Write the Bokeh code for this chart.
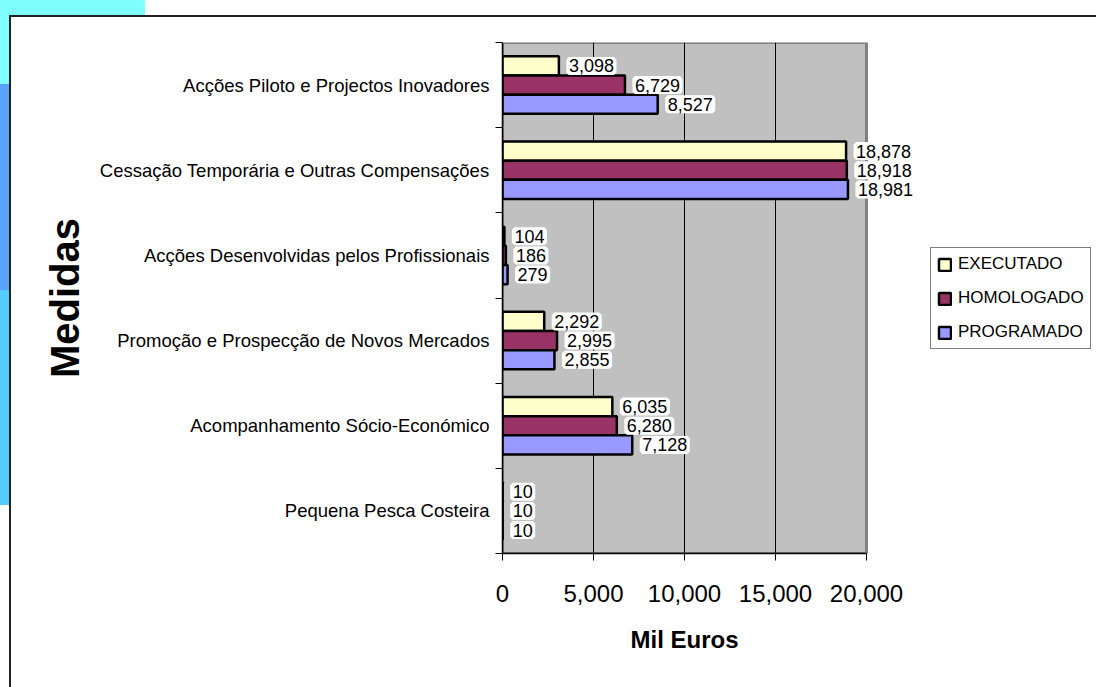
from bokeh.plotting import figure
from bokeh.models import (Range1d, FixedTicker, NumeralTickFormatter, ColumnDataSource,
                          LabelSet, Legend, LegendItem, Title)
from bokeh.core.properties import value
from bokeh.embed import file_html
from bokeh.resources import INLINE

categories = ["Acções Piloto e Projectos Inovadores",
              "Cessação Temporária e Outras Compensações",
              "Acções Desenvolvidas pelos Profissionais",
              "Promoção e Prospecção de Novos Mercados",
              "Acompanhamento Sócio-Económico",
              "Pequena Pesca Costeira"]
executado = [3098, 18878, 104, 2292, 6035, 10]
homologado = [6729, 18918, 186, 2995, 6280, 10]
programado = [8527, 18981, 279, 2855, 7128, 10]
series_names = ["EXECUTADO", "HOMOLOGADO", "PROGRAMADO"]
series_colors = ["#FFFFCC", "#993366", "#9999FF"]
x_ticks = [0, 5000, 10000, 15000, 20000]
x_max = 20000

FONT = "Liberation Sans"
W, H = 1096, 687
FRAME_L, FRAME_R_AXIS, FRAME_T, FRAME_B = 502, 866, 42, 553

n = len(categories)
centers = [n - 0.5 - i for i in range(n)]
boundaries = list(range(n + 1))
bar_h = 0.225
offsets = [bar_h, 0.0, -bar_h]
series_values = [executado, homologado, programado]

# the frame extends to the right edge so that labels / legend are not clipped
x_end = x_max * (W - FRAME_L) / (FRAME_R_AXIS - FRAME_L)

p = figure(width=W, height=H, output_backend="svg", toolbar_location=None,
           x_range=Range1d(0, x_end), y_range=Range1d(0, n),
           min_border_left=FRAME_L, min_border_right=0, min_border_top=FRAME_T,
           min_border_bottom=H - FRAME_B)
p.background_fill_color = "white"
p.border_fill_color = "white"
p.border_fill_alpha = 0
p.outline_line_color = None

# slide background decorations and outer chart frame, painted behind the canvas
p.styles = {
    "background": (
        "linear-gradient(#222222,#222222) 9px 15px / 1087px 2px no-repeat, "
        "linear-gradient(#222222,#222222) 9px 15px / 2px 672px no-repeat, "
        "linear-gradient(#80FFFF,#80FFFF) 0px 0px / 145px 15px no-repeat, "
        "linear-gradient(#80FFFF,#80FFFF) 0px 0px / 9px 84px no-repeat, "
        "linear-gradient(#5AA0FF,#5AA0FF) 0px 84px / 9px 206px no-repeat, "
        "linear-gradient(#55CCFF,#55CCFF) 0px 290px / 9px 215px no-repeat, "
        "white"
    )
}

# gray plot area with darker top/right border
area = p.quad(left=[0], right=[x_max], bottom=[0], top=[n],
              fill_color="#C0C0C0", line_color="#808080", line_width=3)
area.level = "image"

# grid
p.ygrid.grid_line_color = None
p.xgrid.grid_line_color = "black"
p.xgrid.grid_line_width = 1
p.xgrid.ticker = FixedTicker(ticks=x_ticks[1:-1])

# x axis
xa = p.xaxis[0]
xa.bounds = (0, x_max)
xa.ticker = FixedTicker(ticks=x_ticks)
xa.formatter = NumeralTickFormatter(format="0,0")
xa.major_tick_out = 7
xa.major_tick_in = 0
xa.minor_tick_out = 0
xa.minor_tick_in = 0
xa.axis_line_color = "black"
xa.axis_line_width = 1.5
xa.major_tick_line_color = "black"
xa.major_label_text_font = FONT
xa.major_label_text_font_size = "24px"
xa.major_label_text_color = "black"
xa.major_label_standoff = 24

# x axis title, placed below the axis and centred under the 0..20,000 span
x_title = Title(text="Mil Euros", align="left", offset=128, standoff=38,
                text_font=FONT, text_font_style="bold", text_font_size="24px",
                text_color="black")
p.add_layout(x_title, "below")

# y axis
ya = p.yaxis[0]
ya.ticker = FixedTicker(ticks=centers, minor_ticks=boundaries)
ya.major_label_overrides = {c: cat for c, cat in zip(centers, categories)}
ya.major_tick_out = 0
ya.major_tick_in = 0
ya.minor_tick_out = 7
ya.minor_tick_in = 0
ya.minor_tick_line_color = "black"
ya.axis_line_color = "black"
ya.axis_line_width = 1.5
ya.major_label_text_font = FONT
ya.major_label_text_font_size = "18.5px"
ya.major_label_text_color = "black"
ya.major_label_standoff = 6
ya.axis_label = "Medidas"
ya.axis_label_text_font = FONT
ya.axis_label_text_font_style = "bold"
ya.axis_label_text_font_size = "40px"
ya.axis_label_text_color = "black"
ya.axis_label_standoff = 10

renderers = []
sources = []
for name, vals, col, off in zip(series_names, series_values, series_colors, offsets):
    src = ColumnDataSource(dict(y=[c + off for c in centers], x=vals,
                                lab=[f"{v:,}" for v in vals]))
    r = p.hbar(y="y", right="x", left=0, height=bar_h, source=src,
               fill_color=col, line_color="black", line_width=2.5)
    renderers.append(r)
    sources.append(src)

# data labels on white boxes: PROGRAMADO first, EXECUTADO last (on top)
for src in reversed(sources):
    ls = LabelSet(x="x", y="y", text="lab", source=src, x_offset=10,
                  text_baseline="middle", text_align="left",
                  text_font=value(FONT), text_font_size="18px", text_color="black",
                  background_fill_color="white",
                  border_line_color="white", border_line_width=5)
    p.add_layout(ls)

legend = Legend(items=[LegendItem(label=nm, renderers=[r]) for nm, r in zip(series_names, renderers)],
                location=(428, 204), orientation="vertical",
                glyph_width=15, glyph_height=15, label_height=15,
                label_text_font=FONT, label_text_font_size="17px",
                label_text_color="black",
                label_standoff=6, spacing=14, padding=6, margin=0,
                border_line_color="black", border_line_width=1,
                background_fill_color="white", background_fill_alpha=1)
p.add_layout(legend, "center")

open("out.html", "w").write(file_html(p, INLINE))
